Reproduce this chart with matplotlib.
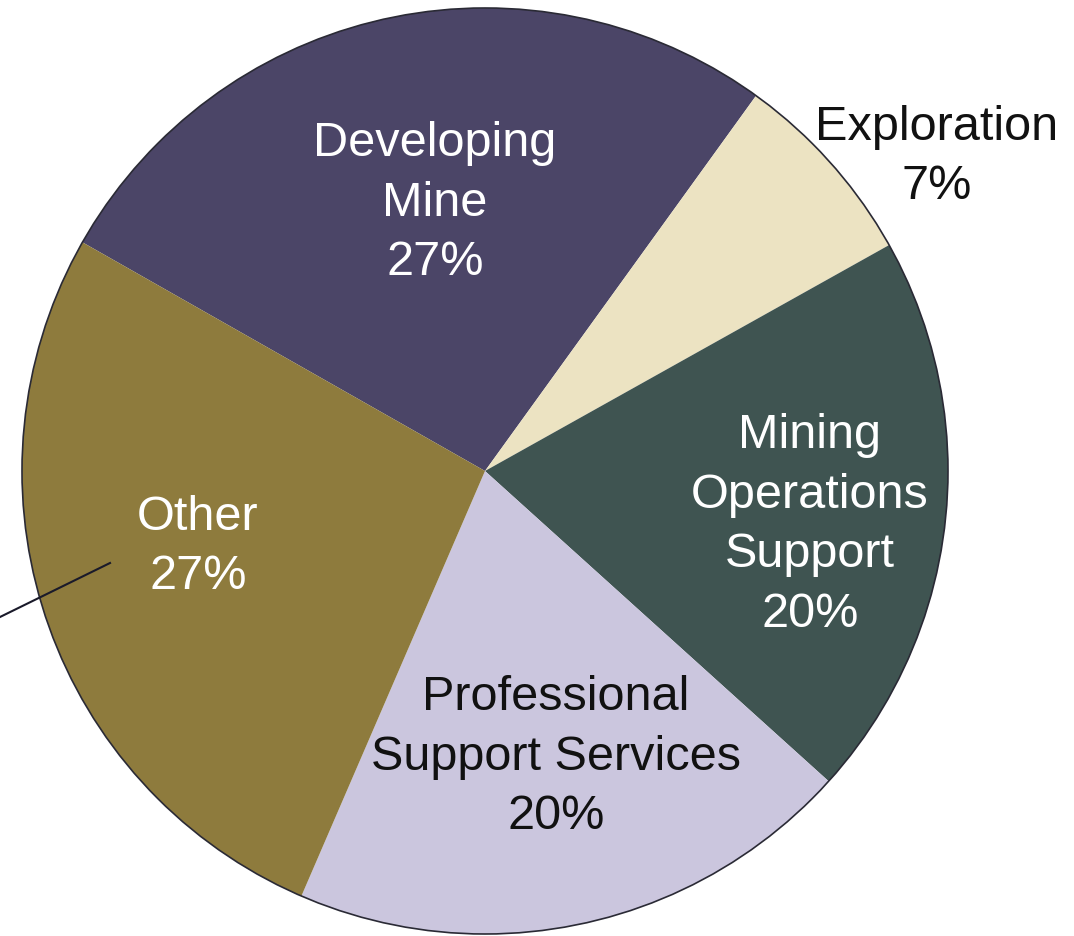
import matplotlib
matplotlib.use("Agg")
import matplotlib.pyplot as plt

# Pie data (clockwise from the Other/Developing boundary)
categories = ["Developing\nMine", "Exploration", "Mining\nOperations\nSupport",
              "Professional\nSupport Services", "Other"]
shares = [27, 7, 20, 20, 27]
colors = ["#4b4567", "#ece3c2", "#3f5451", "#cbc6de", "#8e7b3d"]
text_colors = ["white", "#111111", "white", "#111111", "white"]
# label anchor positions in pixels (x, y from top)
label_pos = [(435, 203), (937, 157), (810, 525), (556, 757), (198, 547)]

W, H = 1074, 936
fig = plt.figure(figsize=(W / 100, H / 100), dpi=100)
ax = fig.add_axes([0, 0, 1, 1])

cx, cy, r = 485, H - 471, 463
ax.pie(shares, colors=colors, startangle=150.4, counterclock=False,
       center=(cx, cy), radius=r, frame=True,
       wedgeprops=dict(linewidth=0))
ax.add_patch(plt.Circle((cx, cy), r, fill=False, lw=1.2, ec="#2a2a35"))
ax.set_xlim(0, W)
ax.set_ylim(0, H)
ax.axis("off")

font = ["Liberation Sans", "DejaVu Sans"]
for cat, val, (x, y), tc in zip(categories, shares, label_pos, text_colors):
    ax.text(x, H - y, f"{cat}\n{val}%", ha="center", va="center",
            color=tc, fontsize=35, family=font, linespacing=1.42)

# leader line coming in from the left edge
ax.plot([0, 110], [H - 617, H - 563], color="#1a1a2a", lw=1.5)

fig.savefig("out.png", dpi=100)
